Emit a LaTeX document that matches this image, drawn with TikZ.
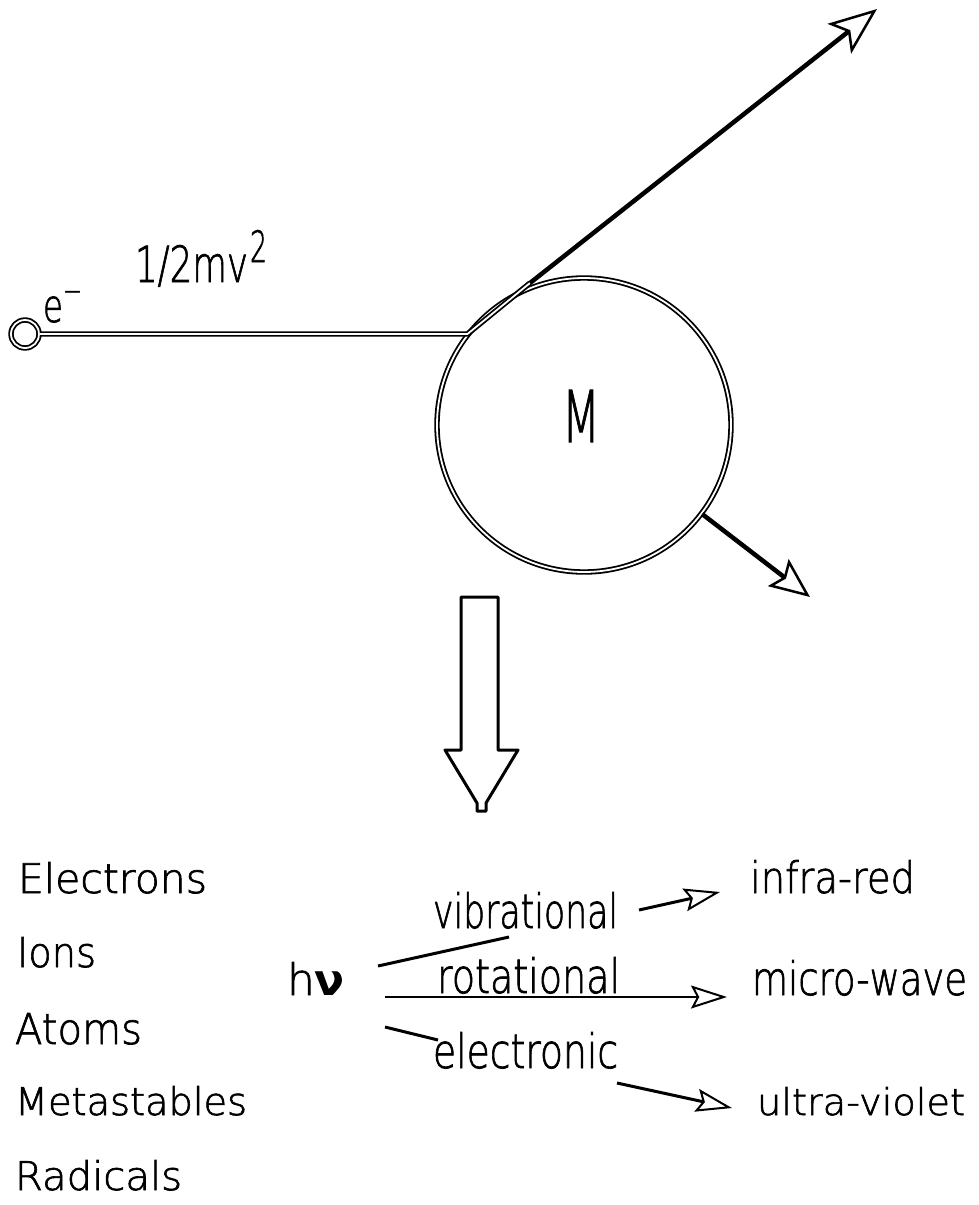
\documentclass[tikz,border=0pt]{standalone}
\usepackage{fontspec}
\setmainfont{DejaVu Sans ExtraLight}[FakeBold=1.6]
\newfontfamily\nufont{DejaVu Sans Bold}
\usepackage{graphicx}
\usetikzlibrary{arrows.meta}
\newcommand\fitt[3]{\resizebox{#1pt}{#2pt}{#3}}
\begin{document}
\begin{tikzpicture}[x=1pt,y=-1pt,
  dbl/.style={draw, line width=1.8pt, double=white, double distance=1.8pt},
  txt/.style={anchor=base west, inner sep=0pt, outer sep=0pt},
  bigarr/.style={line width=4.5pt, -{Stealth[open, length=48pt, width=38pt, inset=11pt, line width=2.5pt]}},
  midarr/.style={line width=4.5pt, -{Stealth[open, length=40pt, width=34pt, inset=7pt, line width=2.5pt]}},
  smallarr/.style={line width=3pt, -{Stealth[open, length=36pt, width=23pt, inset=6pt, line width=2pt]}},
  thinarr/.style={line width=2pt, -{Stealth[open, length=36pt, width=23pt, inset=6pt, line width=2pt]}},
  plainline/.style={line width=3pt}]
\useasboundingbox (0,0) rectangle (979,1205);

% molecule and electron
\node[circle, dbl, minimum size=294pt, inner sep=0pt] (M) at (584,425) {};
\node[txt] (Mlabel) at (562,442) {\fitt{38}{52}{M}};
\node[circle, dbl, minimum size=28pt, inner sep=0pt] (e) at (25,334) {};
\node[txt] (elabel) at (43,322) {\scalebox{3.25}[4.57]{e\raisebox{4.4pt}{\fontsize{7}{8}\selectfont −}}};
\node[txt] (energy) at (135,282) {\fitt{113}{37}{1/2mv}};
\node[txt] (square) at (250,262) {\fitt{17}{32}{2}};

\coordinate (j) at (e.east -| M.142);
\coordinate (k) at (530,283);
\coordinate (tr) at (877,9);
\coordinate (br) at (810,597);
\draw[dbl] (e.east) -- (j) -- (k);
\draw[bigarr] (k) -- (tr);
\draw[midarr] (M.-37) -- (br);

% big down arrow
\draw[line width=3pt, line join=round] (461,597) -- (498,597) -- (498,750) -- (518,750)
  -- (486,803) -- (486,811) -- (477,811) -- (477,803) -- (445,750) -- (461,750) -- cycle;

% products
\node[txt] (electrons) at (18,893) {\fitt{189}{31}{Electrons}};
\node[txt] (ions) at (17,967) {\fitt{79}{30}{Ions}};
\node[txt] (atoms) at (15,1044) {\fitt{127}{31}{Atoms}};
\node[txt] (metastables) at (15,1115) {\fitt{232}{29}{Metastables}};
\node[txt] (radicals) at (15,1190) {\fitt{167}{30}{Radicals}};

\node[txt] (hnu) at (287,995) {\fitt{58}{33}{h{\nufont ν}}};
\node[txt] (vib) at (433,928) {\fitt{185}{36}{vibrational}};
\node[txt] (rot) at (437,993) {\fitt{183}{36}{rotational}};
\node[txt] (elec) at (433,1068) {\fitt{185}{36}{electronic}};
\node[txt] (ir) at (750,893) {\fitt{165}{33}{infra-red}};
\node[txt] (mw) at (752,995) {\fitt{215}{35}{micro-wave}};
\node[txt] (uv) at (757,1115) {\fitt{208}{28}{ultra-violet}};

\coordinate (v1) at (378,966);
\coordinate (v2) at (509,937);
\coordinate (i1) at (639,910);
\coordinate (i2) at (720,892);
\coordinate (r1) at (385,997);
\coordinate (r2) at (727,997);
\coordinate (e1) at (385,1027);
\coordinate (e2) at (438,1040);
\coordinate (u1) at (617,1083);
\coordinate (u2) at (732,1108);
\draw[plainline] (v1) -- (v2);
\draw[smallarr] (i1) -- (i2);
\draw[thinarr] (r1) -- (r2);
\draw[plainline] (e1) -- (e2);
\draw[smallarr] (u1) -- (u2);
\end{tikzpicture}
\end{document}
